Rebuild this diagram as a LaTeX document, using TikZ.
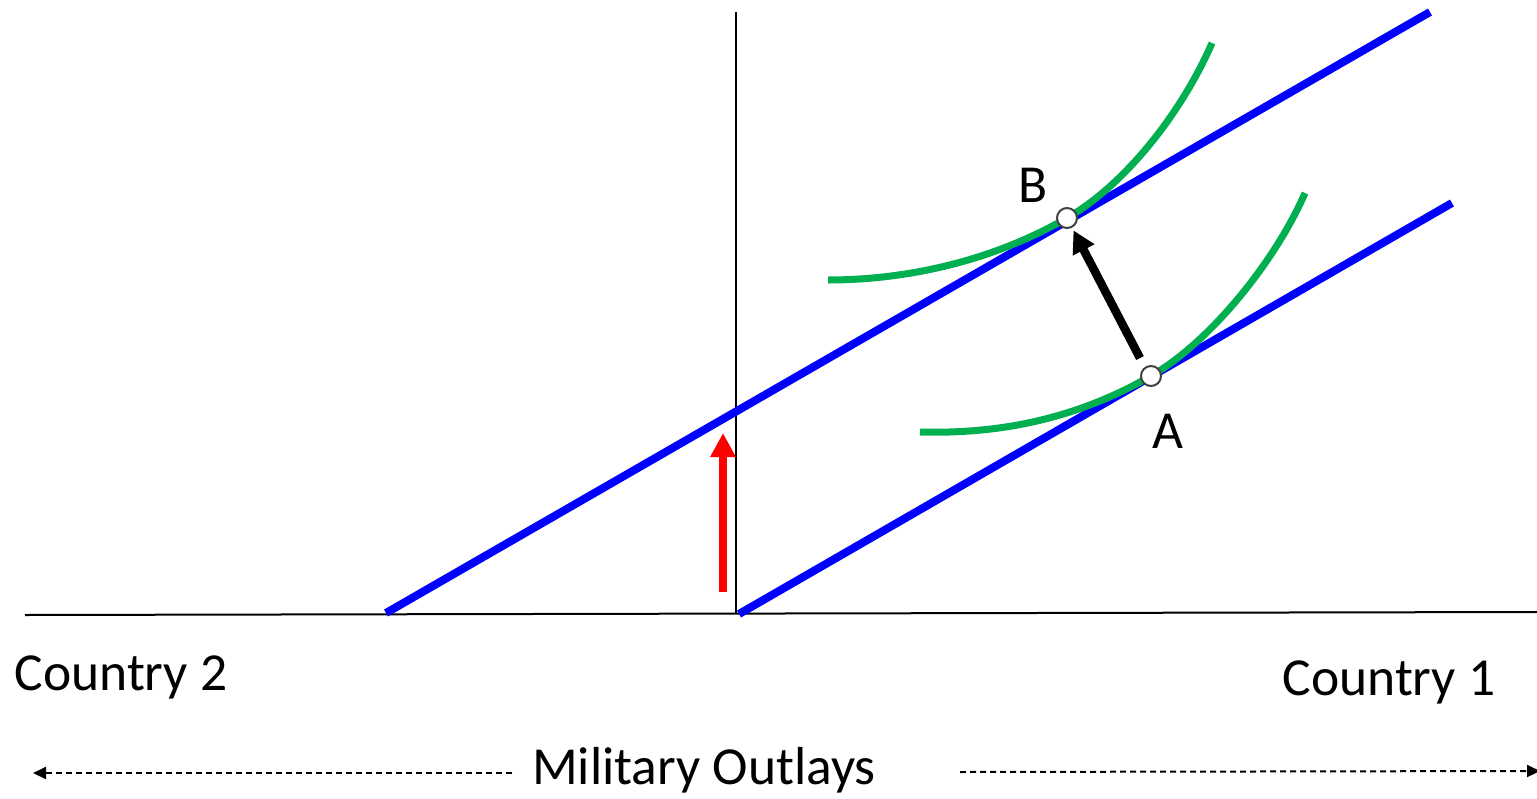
\documentclass[tikz,border=0pt]{standalone}
\usepackage{fontspec}
\setmainfont{Carlito}
\usetikzlibrary{arrows.meta}
\definecolor{lineblue}{RGB}{0,0,255}
\definecolor{curvegreen}{RGB}{0,176,80}
\begin{document}
\begin{tikzpicture}[x=1pt,y=-1pt,
  axis/.style={draw=black,line width=2pt},
  budget/.style={draw=lineblue,line width=8pt},
  indiff/.style={draw=curvegreen,line width=7pt},
  eqpt/.style={circle,draw=black!75,fill=white,line width=2pt,minimum size=20pt,inner sep=0pt},
  lbl/.style={font=\fontsize{53.5}{60}\selectfont,inner sep=0pt},
  dasharrow/.style={draw=black,line width=2pt,dash pattern=on 6pt off 4pt,-{Triangle[length=13pt,width=12pt]}}
]
\useasboundingbox (0,0) rectangle (1537,798);
% axes
\coordinate (hl) at (25,615);
\coordinate (hr) at (1537,612);
\coordinate (vt) at (736,12);
\coordinate (vb) at (736,613);
\draw[axis] (hl) -- (hr);
\draw[draw=black,line width=1.5pt] (vt) -- (vb);
% budget lines
\coordinate (u1) at (386,613);
\coordinate (u2) at (1430,12);
\coordinate (l1) at (739,614);
\coordinate (l2) at (1452,203);
\draw[budget] (u1) -- (u2);
\draw[budget] (l1) -- (l2);
% indifference curves
\coordinate (gs1) at (828,280);
\coordinate (ge1) at (1212,43);
\coordinate (gs2) at (920,432);
\coordinate (ge2) at (1305,193);
\draw[indiff] (gs1) .. controls (900,280) and (987,264) .. (1067,218)
  .. controls (1127,183.5) and (1183,110) .. (ge1);
\draw[indiff] (gs2) .. controls (992,434) and (1071,422) .. (1151,376)
  .. controls (1211,341.5) and (1276,260) .. (ge2);
% points
\node[eqpt] (B) at (1067,218) {};
\node[eqpt] (A) at (1151,376) {};
% arrows
\coordinate (rs) at (723,592);
\coordinate (re) at (723,433);
\draw[draw=red,line width=8pt,-{Triangle[length=24pt,width=24pt]}] (rs) -- (re);
\coordinate (bs) at (1140,358);
\draw[draw=black,line width=8.5pt,shorten >=3pt,-{Triangle[length=22pt,width=23pt]}] (bs) -- (B);
% labels
\node[lbl] (labB) at (1033,185) {B};
\node[lbl] (labA) at (1168,431) {A};
\node[lbl] (c2) at (121,677) {Country 2};
\node[lbl] (c1) at (1389,682) {Country 1};
\node[lbl] (mo) at (704,770) {Military Outlays};
\coordinate (dl) at (33,773);
\coordinate (dr) at (1540,771);
\draw[dasharrow] (512,773) -- (dl);
\draw[dasharrow] (960,772) -- (dr);
\end{tikzpicture}
\end{document}
